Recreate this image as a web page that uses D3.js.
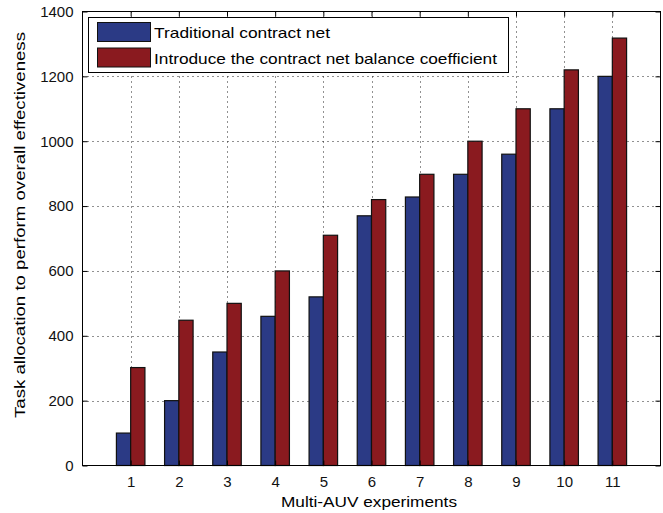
<!DOCTYPE html>
<html>
<head>
<meta charset="utf-8">
<script src="https://cdn.jsdelivr.net/npm/d3@7/dist/d3.min.js"></script>
<style>
html,body{margin:0;padding:0;background:#fff;}
text{font-family:"Liberation Sans",Arial,sans-serif;fill:#000;}
</style>
</head>
<body>
<svg id="chart" width="663" height="513"></svg>
<script>
const categories = ["1","2","3","4","5","6","7","8","9","10","11"];
const seriesNames = ["Traditional contract net","Introduce the contract net balance coefficient"];
const traditional = [100,200,350,460,520,770,828,898,960,1100,1200];
const balanced = [302,448,500,600,710,820,898,1000,1100,1220,1318];
const yTicks = [0,200,400,600,800,1000,1200,1400];
const xLabel = "Multi-AUV experiments";
const yLabel = "Task allocation to perform overall effectiveness";
const colors = ["#2b3a85","#8a1a1f"];

const svg = d3.select("#chart");
const L = 82.5, R = 660.5, T = 11.5, B = 465.5;

const x = d3.scaleLinear().domain([0, categories.length + 1]).range([L, R]);
const y = d3.scaleLinear().domain([0, 1400]).range([B, T]);
const barW = 0.296;

// grid
const grid = svg.append("g").attr("stroke", "#222").attr("stroke-width", 1).attr("stroke-dasharray", "1,4");
yTicks.slice(1, -1).forEach(v => {
  grid.append("line").attr("x1", L).attr("x2", R).attr("y1", Math.round(y(v)) + 0.5).attr("y2", Math.round(y(v)) + 0.5);
});
categories.forEach((c, i) => {
  const xx = Math.round(x(i + 1)) + 0.5;
  grid.append("line").attr("x1", xx).attr("x2", xx).attr("y1", T).attr("y2", B);
});

// bars
const data = [traditional, balanced];
data.forEach((vals, s) => {
  svg.append("g").selectAll("rect").data(vals).join("rect")
    .attr("x", (d, i) => x(i + 1 - barW + s * barW))
    .attr("width", x(barW) - x(0))
    .attr("y", d => y(d))
    .attr("height", d => y(0) - y(d))
    .attr("fill", colors[s])
    .attr("stroke", "#111")
    .attr("stroke-width", 1.2);
});

// axes box
svg.append("rect").attr("x", L).attr("y", T).attr("width", R - L).attr("height", B - T)
  .attr("fill", "none").attr("stroke", "#000").attr("stroke-width", 1);

// axes with inside ticks
const ax = svg.append("g");
const yAxisL = d3.axisLeft(y).tickValues(yTicks).tickFormat(d3.format("d")).tickSizeInner(-5).tickSizeOuter(0).tickPadding(9);
ax.append("g").attr("transform", `translate(${L},0)`).call(yAxisL);
const yAxisR = d3.axisRight(y).tickValues(yTicks).tickSizeInner(-5).tickSizeOuter(0).tickFormat("");
ax.append("g").attr("transform", `translate(${R},0)`).call(yAxisR);
const xAxisB = d3.axisBottom(x).tickValues(categories.map((c, i) => i + 1)).tickFormat((d, i) => categories[i])
  .tickSizeInner(-5).tickSizeOuter(0).tickPadding(11);
ax.append("g").attr("transform", `translate(0,${B})`).call(xAxisB);
const xAxisT = d3.axisTop(x).tickValues(categories.map((c, i) => i + 1)).tickFormat("").tickSizeInner(-5).tickSizeOuter(0);
ax.append("g").attr("transform", `translate(0,${T})`).call(xAxisT);
ax.selectAll(".domain").remove();
ax.selectAll("g").attr("font-size", null).attr("font-family", null);
ax.selectAll(".tick line").attr("stroke", "#000");
ax.selectAll("text").style("font-family", "Liberation Sans, Arial, sans-serif").style("fill", "#111").style("font-size", "15px");

// axis labels
svg.append("text").attr("x", 369).attr("y", 507).attr("text-anchor", "middle").style("font-size", "15px")
  .attr("textLength", 176).attr("lengthAdjust", "spacingAndGlyphs").text(xLabel);
svg.append("text").attr("transform", "translate(25,225) rotate(-90)").attr("text-anchor", "middle").style("font-size", "15px")
  .attr("textLength", 386).attr("lengthAdjust", "spacingAndGlyphs").text(yLabel);

// legend
const lg = svg.append("g");
lg.append("rect").attr("x", 88.5).attr("y", 17.5).attr("width", 420).attr("height", 55)
  .attr("fill", "#fff").attr("stroke", "#000").attr("stroke-width", 1);
const legendLens = [176, 343];
seriesNames.forEach((n, i) => {
  const cy = 32 + i * 25.5;
  lg.append("rect").attr("x", 97.5).attr("y", cy - 9.5).attr("width", 53).attr("height", 19)
    .attr("fill", colors[i]).attr("stroke", "#111").attr("stroke-width", 1);
  lg.append("text").attr("x", 154).attr("y", cy + 6).style("font-size", "15px")
    .attr("textLength", legendLens[i]).attr("lengthAdjust", "spacingAndGlyphs").text(n);
});
</script>
</body>
</html>
